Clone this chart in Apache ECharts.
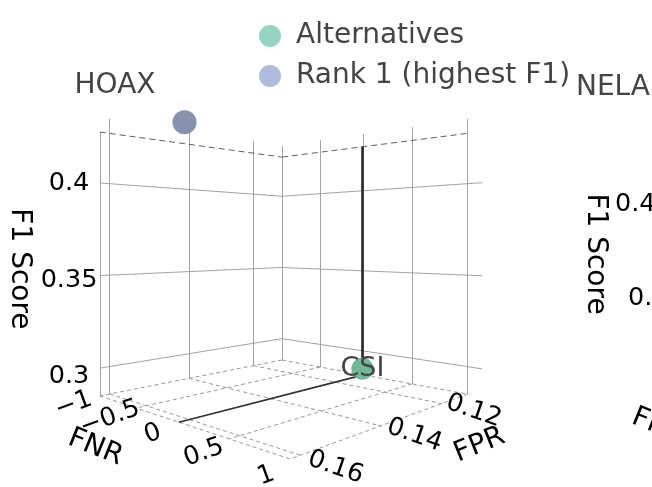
<!DOCTYPE html>
<html>
<head>
<meta charset="utf-8">
<script src="https://cdn.jsdelivr.net/npm/echarts@6/dist/echarts.min.js"></script>
<style>
html, body { margin: 0; padding: 0; background: #fff; }
#chart { width: 652px; height: 487px; }
</style>
</head>
<body>
<div id="chart"></div>
<script>
// ---- scene axes (HOAX) ----
const fnrTicks = [-1, -0.5, 0, 0.5, 1];
const fprTicks = [0.12, 0.14, 0.16];
const f1Ticks = [0.3, 0.35, 0.4];

const fnrRange = [-1, 1];
const fprRange = [0.1098, 0.1622];
const f1Range = [0.285, 0.4275];
const f1GridTop = 0.4355;

// ---- points ----
const altNames = ['CSI'];
const altFnr = [0];
const altFpr = [0.1101];
const altF1 = [0.289];

const bestFnr = [0];
const bestFpr = [0.161];
const bestF1 = [0.424];

// ---- neighbouring scene (NELA), only its left edge shows ----
const nelaF1Ticks = ['0.4', '0.35'];

const FONT = 'DejaVu Sans';
const MINUS = '\u2212';
const INK = '#000';

// perspective camera looking at the box corner-on
const cam = { D: 4.828, F: 628, cx: 284.8, cy: 240.5, yaw: 0.02, zScale: 14.153, zFloor: -1.188 };

function norm(v, r) { return 2 * (v - r[0]) / (r[1] - r[0]) - 1; }

// u, w: normalised FNR / FPR in [-1, 1]; f1 in data units
function projectN(u, w, f1) {
  const h = cam.zFloor + (f1 - f1Range[0]) * cam.zScale;
  const s0 = (u - w) / Math.SQRT2, t0 = (u + w) / Math.SQRT2;
  const c = Math.cos(cam.yaw), sn = Math.sin(cam.yaw);
  const s = s0 * c + t0 * sn, t = t0 * c - s0 * sn;
  const d = cam.D - t;
  return [cam.cx + cam.F * s / d, cam.cy - cam.F * h / d];
}
function project(fnr, fpr, f1) {
  return projectN(norm(fnr, fnrRange), norm(fpr, fprRange), f1);
}

// ---- grid lines of the box ----
const wallStyle = { color: '#a3a3a3', width: 1, type: 'solid', opacity: 1 };
const floorStyle = { color: '#999', width: 1, type: [4, 3], opacity: 1 };
const edgeStyle = { color: '#5e5e5e', width: 1, type: [6, 4], opacity: 1 };
const spikeFloor = { color: '#333', width: 1.6, type: 'solid', opacity: 1 };
const spikeUp = { color: '#2a2a2a', width: 2.6, type: 'solid', opacity: 1 };

const boxLines = [];
function seg(a, b, style) { boxLines.push({ coords: [a, b], lineStyle: style }); }

const [fnrMin, fnrMax] = fnrRange;
const [fprMin, fprMax] = fprRange;
const [f1Min, f1Max] = f1Range;

// left wall (FNR = min): FPR verticals and F1 levels
fprTicks.forEach(v => seg(project(fnrMin, v, f1Min), project(fnrMin, v, f1GridTop), wallStyle));
seg(project(fnrMin, fprMax, f1Min), project(fnrMin, fprMax, f1Max), wallStyle);
f1Ticks.forEach(z => seg(project(fnrMin, fprMax, z), project(fnrMin, fprMin, z), wallStyle));

// right wall (FPR = min): FNR verticals and F1 levels
fnrTicks.forEach(v => seg(project(v, fprMin, f1Min), project(v, fprMin, f1GridTop), wallStyle));
f1Ticks.forEach(z => seg(project(fnrMin, fprMin, z), project(fnrMax + 0.12, fprMin, z), wallStyle));

// floor
fnrTicks.forEach(v => seg(project(v, fprMin, f1Min), project(v, fprMax, f1Min), floorStyle));
fprTicks.concat([fprMin, fprMax]).forEach(v => seg(project(fnrMin, v, f1Min), project(fnrMax, v, f1Min), floorStyle));

// upper rim of the walls
seg(project(fnrMin, fprMax, f1Max), project(fnrMin, fprMin, f1Max), edgeStyle);
seg(project(fnrMin, fprMin, f1Max), project(fnrMax, fprMin, f1Max), edgeStyle);

// hover spikes from the CSI point
seg(project(altFnr[0], fprMax, f1Min), project(altFnr[0], altFpr[0], f1Min), spikeFloor);
seg(project(altFnr[0], altFpr[0], altF1[0]), project(altFnr[0], altFpr[0], f1Max), spikeUp);

// ---- axis text, placed at projected anchors ----
const graphics = [];
function txt(p, text, rotateDeg, size, dy, opts) {
  const o = opts || {};
  graphics.push({
    type: 'text', x: p[0], y: p[1] + (dy || 0), rotation: rotateDeg * Math.PI / 180, silent: true, z: 10,
    style: { text: text, fontSize: size, fontFamily: FONT, fill: o.fill || INK, align: o.align || 'center', verticalAlign: 'middle' }
  });
}
const fmt = v => (v < 0 ? MINUS + String(-v) : String(v));

fnrTicks.forEach(v => txt(projectN(norm(v, fnrRange) + 0.07, 1.25, f1Min), fmt(v), 20, 25.5, 1));
fprTicks.forEach(v => txt(projectN(1.25, norm(v, fprRange), f1Min), String(v), -19, 25.5, 1));
f1Ticks.forEach(z => txt(projectN(-1, 1.25, z), String(z), 0, 25.5, 3));
txt(projectN(0, 1.6, f1Min), 'FNR', -22, 28, 4);
txt(projectN(1.6, 0, f1Min), 'FPR', 22, 28, 4);
txt(projectN(-1, 1.62, 0.355), 'F1 Score', -90, 28, 0);

// scene titles and the visible edge of the NELA scene
txt([115, 86], 'HOAX', 0, 28, 0, { fill: '#444' });
txt([613, 88], 'NELA', 0, 28, 0, { fill: '#444' });
txt([595, 254], 'F1 Score', -90, 28, 0);
txt([615, 204], nelaF1Ticks[0], 0, 25.5, 0, { align: 'left' });
txt([628, 298], nelaF1Ticks[1], 0, 25.5, 0, { align: 'left' });
txt([633, 416], 'FNR', -22, 28, 0, { align: 'left' });

const altPts = altFnr.map((v, i) => ({ value: project(v, altFpr[i], altF1[i]), name: altNames[i] }));
const bestPts = bestFnr.map((v, i) => ({ value: project(v, bestFpr[i], bestF1[i]) }));

const chart = echarts.init(document.getElementById('chart'), null, { renderer: 'canvas' });
chart.setOption({
  animation: false,
  backgroundColor: '#fff',
  textStyle: { fontFamily: FONT },
  grid: { left: 0, right: 0, top: 0, bottom: 0 },
  xAxis: { type: 'value', min: 0, max: 652, show: false },
  yAxis: { type: 'value', min: 0, max: 487, inverse: true, show: false },
  legend: {
    orient: 'vertical', left: 254, top: 17,
    itemWidth: 22, itemHeight: 22, itemGap: 12,
    icon: 'circle',
    textStyle: { fontSize: 28, color: '#444', fontFamily: FONT, padding: [0, 0, 0, 10] },
    data: [
      { name: 'Alternatives', itemStyle: { color: '#94d4c0' } },
      { name: 'Rank 1 (highest F1)', itemStyle: { color: '#afbcdb' } }
    ]
  },
  graphic: graphics,
  series: [
    {
      type: 'lines', coordinateSystem: 'cartesian2d', silent: true, z: 1,
      lineStyle: { opacity: 1 },
      data: boxLines
    },
    {
      type: 'scatter', name: 'Rank 1 (highest F1)', z: 3,
      symbol: 'circle', symbolSize: 24,
      itemStyle: { color: '#8793ae', opacity: 1 },
      data: bestPts
    },
    {
      type: 'scatter', name: 'Alternatives', z: 3,
      symbol: 'circle', symbolSize: 22,
      itemStyle: { color: '#72b897', opacity: 1 },
      label: { show: true, position: 'inside', formatter: p => p.name, color: '#444', fontSize: 27, fontFamily: FONT, textBorderWidth: 0 },
      data: altPts
    }
  ]
});
</script>
</body>
</html>
